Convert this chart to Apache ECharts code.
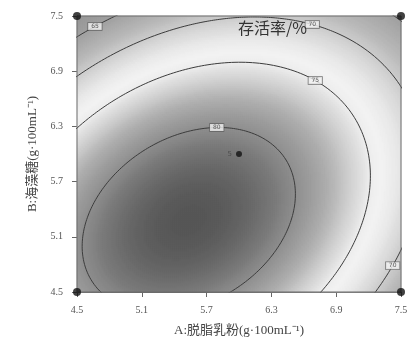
<!DOCTYPE html>
<html>
<head>
<meta charset="utf-8">
<script src="https://cdn.jsdelivr.net/npm/echarts/dist/echarts.min.js"></script>
<style>
  html, body { margin: 0; padding: 0; background: #ffffff; }
  #chart { width: 411px; height: 340px; }
</style>
</head>
<body>
<div id="chart"></div>
<script>
// Factor range and tick labels, both factors in g·100mL⁻¹
const factorRange = [4.5, 7.5];
const tickValues = [4.5, 5.1, 5.7, 6.3, 6.9, 7.5];

// Fitted quadratic response surface for survival rate (%):
// rate = peakRate - (cAA·dA² + cAB·dA·dB + cBB·dB²), with dA, dB measured from the optimum
const optimum = [5.535, 5.28];
const peakRate = 82.63;
const curvature = [2.930, -1.613, 2.809];

// Contour levels (%) and rough spots for their labels (A, B)
const contourLevels = [80, 75, 70, 65];
const labelAnchors = [
  [[5.81, 6.35]],
  [[6.73, 6.83]],
  [[6.69, 7.43], [7.41, 4.79]],
  [[4.64, 7.45]]
];

// Design points: factorial corners and the replicated centre point
const cornerPoints = [[4.5, 4.5], [4.5, 7.5], [7.5, 4.5], [7.5, 7.5]];
const centrePoint = [6.0, 6.0];
const centreReplicates = 5;

const titleText = '存活率/%';
const xName = 'A:脱脂乳粉(g·100mL⁻¹)';
const yName = 'B:海藻糖(g·100mL⁻¹)';

// ---- model helpers ----
function quadForm(dA, dB) {
  return curvature[0] * dA * dA + curvature[1] * dA * dB + curvature[2] * dB * dB;
}
function rate(a, b) {
  return peakRate - quadForm(a - optimum[0], b - optimum[1]);
}
// point on the contour of a given level, in the direction of (a, b) from the optimum
function onContour(level, a, b) {
  const dA = a - optimum[0], dB = b - optimum[1];
  const t = Math.sqrt((peakRate - level) / quadForm(dA, dB));
  return [optimum[0] + t * dA, optimum[1] + t * dB];
}
function contourPath(level) {
  const pts = [];
  for (let k = 0; k <= 720; k++) {
    const th = (k / 720) * Math.PI * 2;
    pts.push(onContour(level, optimum[0] + Math.cos(th), optimum[1] + Math.sin(th)));
  }
  return pts;
}

// ---- shaded surface on a fine grid (2px cells) ----
const NX = 162, NY = 138;
const span = factorRange[1] - factorRange[0];
const cellsX = [], cellsY = [], cells = [];
let vMin = Infinity, vMax = -Infinity;
for (let i = 0; i < NX; i++) cellsX.push(i);
for (let j = 0; j < NY; j++) cellsY.push(j);
for (let i = 0; i < NX; i++) {
  const a = factorRange[0] + (i + 0.5) * span / NX;
  for (let j = 0; j < NY; j++) {
    const b = factorRange[0] + (j + 0.5) * span / NY;
    const v = rate(a, b);
    vMin = Math.min(vMin, v); vMax = Math.max(vMax, v);
    cells.push([i, j, v]);
  }
}

// grey ramp: dark at the optimum, brightest just outside the 75% contour
const shadeStops = [[61, 145], [65, 160], [68, 182], [70, 204], [72.5, 232], [74, 243], [75, 237],
  [76.5, 210], [78, 178], [80, 142], [81.5, 110], [82.7, 84]];
function greyAt(v) {
  if (v <= shadeStops[0][0]) return shadeStops[0][1];
  for (let k = 1; k < shadeStops.length; k++) {
    if (v <= shadeStops[k][0]) {
      const [v0, g0] = shadeStops[k - 1], [v1, g1] = shadeStops[k];
      return g0 + (g1 - g0) * (v - v0) / (v1 - v0);
    }
  }
  return shadeStops[shadeStops.length - 1][1];
}
const ramp = [];
for (let k = 0; k <= 60; k++) {
  const g = Math.round(greyAt(vMin + (vMax - vMin) * k / 60));
  ramp.push('rgb(' + g + ',' + g + ',' + g + ')');
}

// ---- series ----
const series = [{
  type: 'heatmap',
  xAxisIndex: 0, yAxisIndex: 0,
  data: cells,
  progressive: 0,
  silent: true,
  itemStyle: { borderWidth: 0 }
}];

contourLevels.forEach(level => {
  series.push({
    type: 'line',
    xAxisIndex: 1, yAxisIndex: 1,
    data: contourPath(level),
    showSymbol: false,
    clip: true,
    silent: true,
    lineStyle: { color: '#3c3c3c', width: 1 },
    z: 3
  });
});

const labelData = [];
contourLevels.forEach((level, n) => {
  labelAnchors[n].forEach(p => {
    const q = onContour(level, p[0], p[1]);
    labelData.push([q[0], q[1], level]);
  });
});
series.push({
  type: 'scatter',
  xAxisIndex: 1, yAxisIndex: 1,
  data: labelData,
  symbolSize: 0,
  silent: true,
  z: 5,
  label: {
    show: true,
    position: 'inside',
    formatter: p => String(p.value[2]),
    fontSize: 6,
    fontFamily: 'DejaVu Sans',
    color: '#333',
    backgroundColor: '#f2f2f2',
    borderColor: '#555',
    borderWidth: 0.7,
    padding: [1, 3, 0, 3]
  }
});

series.push({
  type: 'scatter',
  xAxisIndex: 1, yAxisIndex: 1,
  data: cornerPoints,
  symbolSize: 8,
  clip: false,
  silent: true,
  itemStyle: { color: '#111' },
  z: 6
});
series.push({
  type: 'scatter',
  xAxisIndex: 1, yAxisIndex: 1,
  data: [centrePoint],
  symbolSize: 6,
  silent: true,
  itemStyle: { color: '#111' },
  z: 6,
  label: {
    show: true,
    position: 'left',
    distance: 4,
    formatter: String(centreReplicates),
    fontSize: 7,
    color: '#444',
    fontFamily: 'DejaVu Sans'
  }
});

const tickFont = { fontSize: 10, color: '#555', fontFamily: 'Liberation Serif' };
const nameFont = { fontSize: 13, color: '#444', fontFamily: 'Liberation Serif, Noto Sans CJK SC' };

const option = {
  animation: false,
  backgroundColor: '#ffffff',
  title: {
    text: titleText,
    left: 238, top: 20, padding: 0,
    textStyle: { fontSize: 16, fontWeight: 'normal', color: '#333', fontFamily: 'Noto Sans CJK SC' },
    z: 10
  },
  grid: {
    left: 77, top: 16, width: 324, height: 276,
    containLabel: false,
    outerBoundsMode: 'none',
    show: true, borderColor: '#6a6a6a', borderWidth: 1, backgroundColor: 'transparent', z: 4
  },
  visualMap: {
    type: 'continuous', show: false, seriesIndex: 0, dimension: 2,
    min: vMin, max: vMax,
    inRange: { color: ramp }
  },
  xAxis: [
    { type: 'category', data: cellsX, show: false, gridIndex: 0, position: 'bottom' },
    {
      type: 'value', gridIndex: 0, position: 'bottom', min: factorRange[0], max: factorRange[1],
      name: xName, nameLocation: 'middle', nameGap: 32, nameTextStyle: nameFont,
      axisLine: { show: true, onZero: false, lineStyle: { color: '#6a6a6a' } },
      axisTick: { show: true, length: 5, customValues: tickValues, lineStyle: { color: '#666' } },
      axisLabel: { customValues: tickValues, margin: 13, formatter: v => v.toFixed(1), ...tickFont },
      splitLine: { show: false }
    }
  ],
  yAxis: [
    { type: 'category', data: cellsY, show: false, gridIndex: 0, position: 'left' },
    {
      type: 'value', gridIndex: 0, position: 'left', min: factorRange[0], max: factorRange[1],
      name: yName, nameLocation: 'middle', nameGap: 38, nameTextStyle: nameFont,
      axisLine: { show: true, onZero: false, lineStyle: { color: '#6a6a6a' } },
      axisTick: { show: true, length: 5, customValues: tickValues, lineStyle: { color: '#666' } },
      axisLabel: { customValues: tickValues, margin: 14, formatter: v => v.toFixed(1), ...tickFont },
      splitLine: { show: false }
    }
  ],
  series: series
};

const chart = echarts.init(document.getElementById('chart'), null, { renderer: 'canvas' });
chart.setOption(option);
</script>
</body>
</html>
